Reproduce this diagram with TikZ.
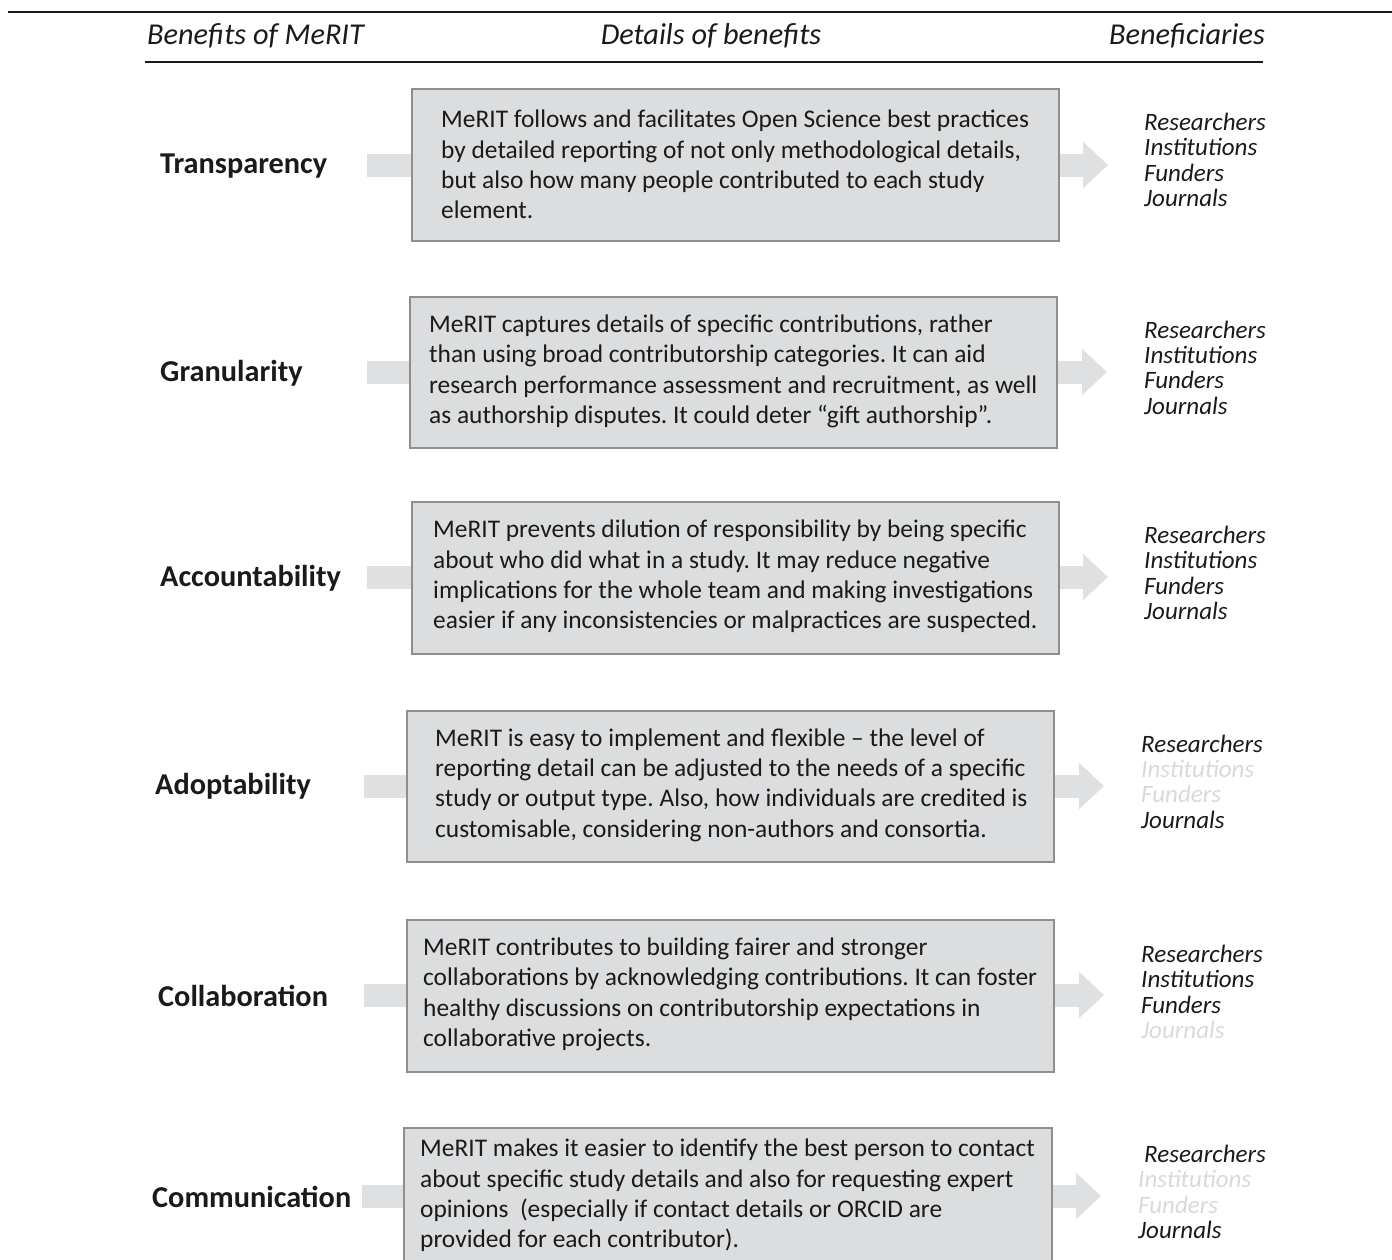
\documentclass[tikz,border=0pt]{standalone}
\usepackage{fontspec}
\setmainfont{Carlito}
\usetikzlibrary{arrows.meta}
\frenchspacing
\definecolor{boxfill}{HTML}{DCDDDE}
\definecolor{boxline}{HTML}{8E8E8E}
\definecolor{arrowfill}{HTML}{DFE0E1}
\definecolor{faded}{HTML}{D9D9D9}
\definecolor{ink}{HTML}{1A1A1A}
\tikzset{
  benefitbox/.style={draw=boxline, line width=2pt, fill=boxfill, inner sep=0pt, minimum width=647pt, minimum height=152pt, anchor=north west},
  detailtext/.style={anchor=west, align=left, inner sep=0pt, text=ink, font=\frenchspacing\fontsize{25.4}{30.4}\selectfont},
  benefitlabel/.style={anchor=west, inner sep=0pt, text=ink, font=\bfseries\fontsize{30.3}{34}\selectfont},
  benelist/.style={anchor=west, align=left, inner sep=0pt, text=ink, font=\itshape\fontsize{25}{25.3}\selectfont},
  flow/.style={draw=arrowfill, line width=23pt, -{Triangle[length=25pt,width=45pt]}},
  header/.style={inner sep=0pt, text=ink, font=\itshape\fontsize{30.3}{34}\selectfont},
  rule/.style={draw=ink, line width=2pt},
}
\begin{document}
\begin{tikzpicture}[x=1pt,y=-1pt]
\useasboundingbox (0,0) rectangle (1392,1259);
% header
\coordinate (r1a) at (8,12);
\coordinate (r1b) at (1392,12);
\coordinate (r2a) at (145,62);
\coordinate (r2b) at (1263,62);
\draw[rule] (r1a) -- (r1b);
\draw[rule] (r2a) -- (r2b);
\node[header, anchor=west] (h1) at (147,36) {Benefits of MeRIT};
\node[header] (h2) at (711,36) {Details of benefits};
\node[header, anchor=east] (h3) at (1265,36) {Beneficiaries};

% arrows (behind boxes)
\coordinate (a1s) at (367,165);  \coordinate (a1e) at (1108,165);
\coordinate (a2s) at (367,372);  \coordinate (a2e) at (1107,372);
\coordinate (a3s) at (367,577);  \coordinate (a3e) at (1108,577);
\coordinate (a4s) at (364,786);  \coordinate (a4e) at (1104,786);
\coordinate (a5s) at (364,995);  \coordinate (a5e) at (1104,995);
\coordinate (a6s) at (362,1196); \coordinate (a6e) at (1101,1196);
\foreach \i in {1,...,6} { \draw[flow] (a\i s) -- (a\i e); }

% row 1
\node[benefitlabel] (l1) at (160,166) {Transparency};
\node[benefitbox] (b1) at (411,88) {};
\node[detailtext] (t1) at (441,164.5) {MeRIT follows and facilitates Open Science best practices\\by detailed reporting of not only methodological details,\\but also how many people contributed to each study\\element.};
\node[benelist] (w1) at (1144,160) {Researchers\\Institutions\\Funders\\Journals};

% row 2
\node[benefitlabel] (l2) at (160,373) {Granularity};
\node[benefitbox, minimum height=151pt] (b2) at (409,296) {};
\node[detailtext] (t2) at (429,371.5) {MeRIT captures details of specific contributions, rather\\than using broad contributorship categories. It can aid\\research performance assessment and recruitment, as well\\as authorship disputes. It could deter “gift authorship”.};
\node[benelist] (w2) at (1144,367.5) {Researchers\\Institutions\\Funders\\Journals};

% row 3
\node[benefitlabel] (l3) at (160,578) {Accountability};
\node[benefitbox] (b3) at (411,501) {};
\node[detailtext] (t3) at (433,576.5) {MeRIT prevents dilution of responsibility by being specific\\about who did what in a study. It may reduce negative\\implications for the whole team and making investigations\\easier if any inconsistencies or malpractices are suspected.};
\node[benelist] (w3) at (1144,573) {Researchers\\Institutions\\Funders\\Journals};

% row 4
\node[benefitlabel] (l4) at (155,786) {Adoptability};
\node[benefitbox, minimum height=151pt] (b4) at (406,710) {};
\node[detailtext] (t4) at (435,785) {MeRIT is easy to implement and flexible – the level of\\reporting detail can be adjusted to the needs of a specific\\study or output type. Also, how individuals are credited is\\customisable, considering non-authors and consortia.};
\node[benelist] (w4) at (1141,781.5) {Researchers\\\textcolor{faded}{Institutions}\\\textcolor{faded}{Funders}\\Journals};

% row 5
\node[benefitlabel] (l5) at (158,996) {Collaboration};
\node[benefitbox] (b5) at (406,919) {};
\node[detailtext] (t5) at (423,994.5) {MeRIT contributes to building fairer and stronger\\collaborations by acknowledging contributions. It can foster\\healthy discussions on contributorship expectations in\\collaborative projects.};
\node[benelist] (w5) at (1141,992) {Researchers\\Institutions\\Funders\\\textcolor{faded}{Journals}};

% row 6
\node[benefitlabel] (l6) at (152,1197) {Communication};
\node[benefitbox, minimum width=648pt] (b6) at (403,1127) {};
\node[detailtext] (t6) at (420,1195.5) {MeRIT makes it easier to identify the best person to contact\\about specific study details and also for requesting expert\\opinions~ (especially if contact details or ORCID are\\provided for each contributor).};
\node[benelist] (w6) at (1138,1192) {\hspace*{6pt}Researchers\\\textcolor{faded}{Institutions}\\\textcolor{faded}{Funders}\\Journals};
\end{tikzpicture}
\end{document}
